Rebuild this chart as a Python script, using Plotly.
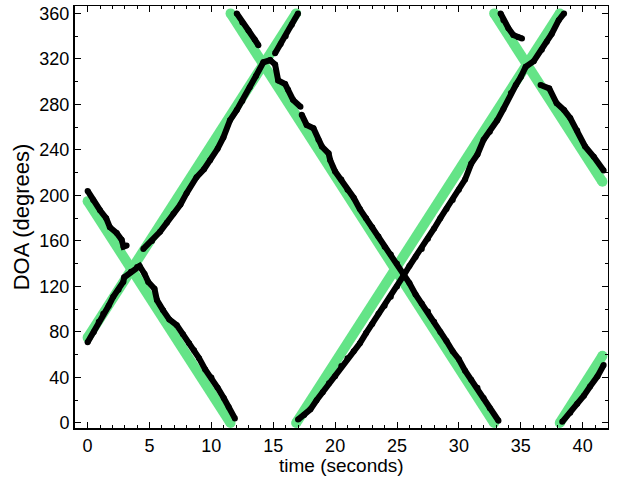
import plotly.graph_objects as go

# ---- true source DOA tracks (segment endpoints, wrapped at 0/360) ----
true_asc_t = [0, 16.85, None, 16.85, 38.15, None, 38.15, 41.6]
true_asc_deg = [75, 360, None, 0, 360, None, 0, 59]
true_desc_t = [0, 11.55, None, 11.55, 32.85, None, 32.85, 41.6]
true_desc_deg = [195, 0, None, 360, 0, None, 360, 212]

# ---- estimated DOA (black) ----
est_t = [
    0.0, 0.5, 0.9, 1.26, 1.7, 2.07, 2.5, 2.88, 2.96, 3.5, 4.0, 4.2, 4.6, 4.9, 5.4, 5.6, 6.1, 6.6, 7.2, 7.7,
    8.2, 8.6, 9.0, 9.5, 10.0, 10.5, 11.0, 11.4, 11.9, None,
    0.0, 0.45, 1.0, 1.5, 1.8, 2.35, 2.75, 2.9, 3.15, None,
    4.5, 5.2, 5.85, 6.4, 6.93, 7.5, 8.0, 8.8, 9.4, 9.9, 10.5, 10.97, 11.5, 12.05, 12.5, 13.1, 13.6, 14.2,
    14.75, 15.15, 15.4, 15.96, 16.2, 16.6, 17.2, None,
    12.05, 12.5, 13.0, 13.5, 13.8, None,
    15.15, 15.6, 16.0, 16.5, 17.0, None,
    17.3, 17.7, 18.25, 18.65, 18.93, 19.47, 19.6, 20.0, 20.5, 21.0, 21.5, 22.0, 22.5, 23.0, 23.5, 24.0,
    24.5, 25.0, 25.5, 26.0, 26.5, 27.0, 27.5, 28.0, 28.5, 29.0, 29.5, 30.0, 30.5, 31.0, 31.5, 32.0,
    32.5, 33.2, None,
    17.0, 17.5, 18.0, 18.5, 19.0, 19.5, 20.0, 20.5, 21.0, 21.5, 22.0, 22.5, 23.0, 23.5, 24.0, 24.5,
    25.0, 25.5, 26.0, 26.5, 27.0, 27.5, 28.0, 28.5, 29.0, 29.5, 30.0, 30.5, 31.0, 31.5, 32.0, 32.5,
    33.1, 33.6, 34.2, 34.6, 35.0, 35.4, 36.05, 36.7, 37.1, 37.5, 38.07, 38.5, None,
    33.37, 33.6, 34.0, 34.4, 34.8, 35.1, None,
    36.6, 37.3, 37.9, 38.5, 39.0, 39.56, 40.2, 40.9, 41.7, None,
    38.35, 39.0, 39.56, 40.1, 40.6, 41.2, 41.7,
]
est_deg = [
    71, 80, 89, 96, 103, 111, 117, 124, 128, 133, 137, 138, 131, 124, 118, 108, 99, 91, 86, 78,
    70, 64, 57, 47, 40, 31, 22, 14, 4, None,
    204, 196, 187, 180, 172, 167, 161, 155, 156, None,
    153, 160, 168, 176, 184, 192, 202, 216, 223, 231, 241, 251, 266, 275, 283, 295, 305, 317,
    319, 315, 301, 298, 293, 284, 278, None,
    360, 352, 345, 337, 332, None,
    325, 333, 340, 350, 360, None,
    271, 262, 259, 249, 243, 237, 231, 221, 214, 205, 198, 188, 180, 172, 164, 155,
    148, 140, 131, 123, 113, 105, 98, 89, 80, 72, 63, 56, 46, 38, 31, 22,
    13, 2, None,
    3, 7, 12, 20, 27, 35, 41, 50, 57, 63, 70, 79, 87, 96, 103, 111,
    120, 129, 138, 146, 153, 162, 171, 180, 188, 196, 205, 214, 228, 236, 249, 256,
    266, 276, 290, 297, 304, 313, 318, 328, 335, 342, 354, 360, None,
    360, 354, 347, 341, 339, 338, None,
    297, 294, 281, 275, 268, 257, 243, 234, 222, None,
    1, 9, 17, 24, 32, 41, 51,
]

x_ticks = [0, 5, 10, 15, 20, 25, 30, 35, 40]
y_ticks = [0, 40, 80, 120, 160, 200, 240, 280, 320, 360]
x_title = "time (seconds)"
y_title = "DOA (degrees)"

GREEN = "rgb(100,228,135)"
x_range = [-1.02, 42.05]
y_range = [-4.4, 366.5]

fig = go.Figure()
fig.add_trace(go.Scatter(x=true_asc_t, y=true_asc_deg, mode="lines+markers",
                         line=dict(color=GREEN, width=10), marker=dict(color=GREEN, size=10),
                         hoverinfo="skip"))
fig.add_trace(go.Scatter(x=true_desc_t, y=true_desc_deg, mode="lines+markers",
                         line=dict(color=GREEN, width=10), marker=dict(color=GREEN, size=10),
                         hoverinfo="skip"))
fig.add_trace(go.Scatter(x=est_t, y=est_deg, mode="lines+markers",
                         line=dict(color="black", width=6), marker=dict(color="black", size=6),
                         hoverinfo="skip"))
# invisible trace so the mirrored (top/right) axes get drawn
fig.add_trace(go.Scatter(x=[None], y=[None], xaxis="x2", yaxis="y2", mode="markers",
                         showlegend=False, hoverinfo="skip"))

axis_common = dict(showgrid=False, zeroline=False, ticks="inside", tickcolor="black",
                   tickwidth=1, ticklen=6, linecolor="black", showline=True, automargin=False)

fig.update_layout(
    width=624, height=478,
    margin=dict(l=75, r=16, t=6, b=50),
    plot_bgcolor="white", paper_bgcolor="white",
    showlegend=False,
    font=dict(family="Liberation Sans, Arial, sans-serif", size=18, color="black"),
    xaxis=dict(range=x_range, tickvals=x_ticks, linewidth=2,
               minor=dict(ticks="inside", ticklen=3, dtick=1, tick0=0, tickcolor="black"),
               **axis_common),
    yaxis=dict(range=y_range, tickvals=y_ticks, linewidth=2,
               minor=dict(ticks="inside", ticklen=3, dtick=20, tick0=0, tickcolor="black"),
               title=dict(text=y_title, standoff=4), **axis_common),
    xaxis2=dict(range=x_range, overlaying="x", side="top", anchor="y2", tickvals=x_ticks,
                showticklabels=False, linewidth=1,
                minor=dict(ticks="inside", ticklen=3, dtick=1, tick0=0, tickcolor="black"),
                **axis_common),
    yaxis2=dict(range=y_range, overlaying="y", side="right", anchor="x2", tickvals=y_ticks,
                showticklabels=False, linewidth=1,
                minor=dict(ticks="inside", ticklen=3, dtick=20, tick0=0, tickcolor="black"),
                **axis_common),
    annotations=[dict(text=x_title, xref="paper", yref="paper", x=0.5, y=-0.088,
                      xanchor="center", yanchor="middle", showarrow=False,
                      font=dict(size=19))],
)

fig.write_html("out.html", config={"displayModeBar": False},
               post_script="document.body.style.margin='0';")
